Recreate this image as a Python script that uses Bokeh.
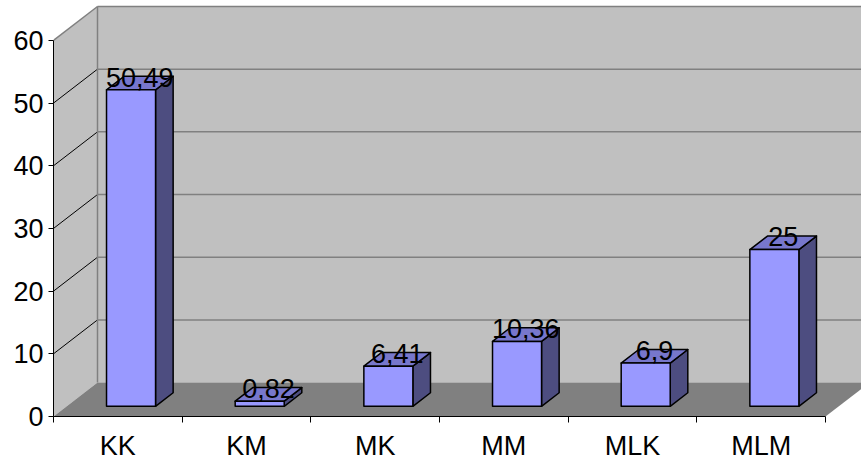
from bokeh.plotting import figure
from bokeh.models import Range1d, FixedTicker
from bokeh.embed import file_html
from bokeh.resources import INLINE
from bokeh.core.properties import value

# ---- data ----
categories = ["KK", "KM", "MK", "MM", "MLK", "MLM"]
values = [50.49, 0.82, 6.41, 10.36, 6.9, 25]
y_ticks = [0, 10, 20, 30, 40, 50, 60]
value_labels = [f"{v:g}".replace(".", ",") for v in values]

# ---- layout / projection ----
W, H = 861, 463
LEFT, BOTTOM = 53, 46
frame_w, frame_h = W - LEFT, H - BOTTOM
n = len(categories)
ymax = y_ticks[-1]
px_per_cat = 772 / n
px_per_unit = 377 / ymax
x_end = frame_w / px_per_cat
y_end = frame_h / px_per_unit
DX = 44 / px_per_cat          # depth vector in data units
DY = 34 / px_per_unit
F1, F2 = 0.3, 0.7             # bar depth span (fraction of depth)
BW = 0.381                    # bar width (category units)
FONT = "Liberation Sans"

p = figure(width=W, height=H, x_range=Range1d(0, x_end), y_range=Range1d(0, y_end),
           output_backend="svg", toolbar_location=None,
           min_border_left=LEFT, min_border_bottom=BOTTOM, min_border_top=0, min_border_right=0)
p.outline_line_color = None
p.grid.visible = False
p.background_fill_color = "white"
p.border_fill_color = "white"

# walls and floor
p.patch([DX, n + DX + 1, n + DX + 1, DX], [DY, DY, ymax + DY, ymax + DY],
        fill_color="#C0C0C0", line_color=None)
p.patch([0, DX, DX, 0], [0, DY, ymax + DY, ymax],
        fill_color="#C0C0C0", line_color=None)
p.patch([0, n, n + DX, DX], [0, 0, DY, DY], fill_color="#808080", line_color=None)

# back wall gridlines
gx = [[DX, n + DX + 1] for t in y_ticks[1:]]
gy = [[t + DY, t + DY] for t in y_ticks[1:]]
p.multi_line(gx, gy, line_color="#808080", line_width=1.5)
# side wall gridlines
sx = [[0, DX] for t in y_ticks[1:-1]]
sy = [[t, t + DY] for t in y_ticks[1:-1]]
p.multi_line(sx, sy, line_color="black", line_width=1)
# wall edges
p.multi_line([[DX, DX], [0, DX]], [[DY, ymax + DY], [ymax, ymax + DY]],
             line_color="#808080", line_width=1.5)

# bars
fx, fy, sxs, sys_, tx, ty = [], [], [], [], [], []
bdx, bdy = (F2 - F1) * DX, (F2 - F1) * DY
for i, v in enumerate(values):
    xl = i + 0.5 - BW / 2 + F1 * DX
    xr = xl + BW
    y0 = F1 * DY
    yt = v + F1 * DY
    fx.append([xl, xr, xr, xl]); fy.append([y0, y0, yt, yt])
    sxs.append([xr, xr + bdx, xr + bdx, xr]); sys_.append([y0, y0 + bdy, yt + bdy, yt])
    tx.append([xl, xr, xr + bdx, xl + bdx]); ty.append([yt, yt, yt + bdy, yt + bdy])
p.patches(sxs, sys_, fill_color="#4D4D80", line_color="black", line_width=1.5, line_join="round")
p.patches(tx, ty, fill_color="#7777CC", line_color="black", line_width=1.5, line_join="round")
p.patches(fx, fy, fill_color="#9999FF", line_color="black", line_width=1.5, line_join="round")

# value labels (baseline just above the bar top at mid-depth)
p.text(x=[i + 0.5 + 0.5 * DX for i in range(n)],
       y=[v + 0.5 * DY + 6 / px_per_unit for v in values],
       text=value_labels, text_font=value(FONT), text_font_size=value("27px"),
       text_color="black", text_align="center", text_baseline="alphabetic")

# axes
ya = p.yaxis[0]
ya.ticker = FixedTicker(ticks=y_ticks)
ya.bounds = (0, ymax)
ya.major_tick_out = 5
ya.major_tick_in = 0
ya.minor_tick_line_color = None
ya.axis_line_color = "black"
ya.major_tick_line_color = "black"
ya.major_label_text_font = FONT
ya.major_label_text_font_size = "27px"
ya.major_label_text_color = "black"
ya.major_label_standoff = 5

xa = p.xaxis[0]
centers = [i + 0.5 for i in range(n)]
xa.ticker = FixedTicker(ticks=centers, minor_ticks=list(range(n + 1)))
xa.bounds = (0, n)
xa.major_tick_out = 0
xa.major_tick_in = 0
xa.major_tick_line_color = None
xa.minor_tick_out = 6
xa.minor_tick_in = 0
xa.minor_tick_line_color = "black"
xa.axis_line_color = "black"
xa.major_label_overrides = {c: cat for c, cat in zip(centers, categories)}
xa.major_label_text_font = FONT
xa.major_label_text_font_size = "27px"
xa.major_label_text_color = "black"
xa.major_label_standoff = 8

open("out.html", "w").write(file_html(p, INLINE))
